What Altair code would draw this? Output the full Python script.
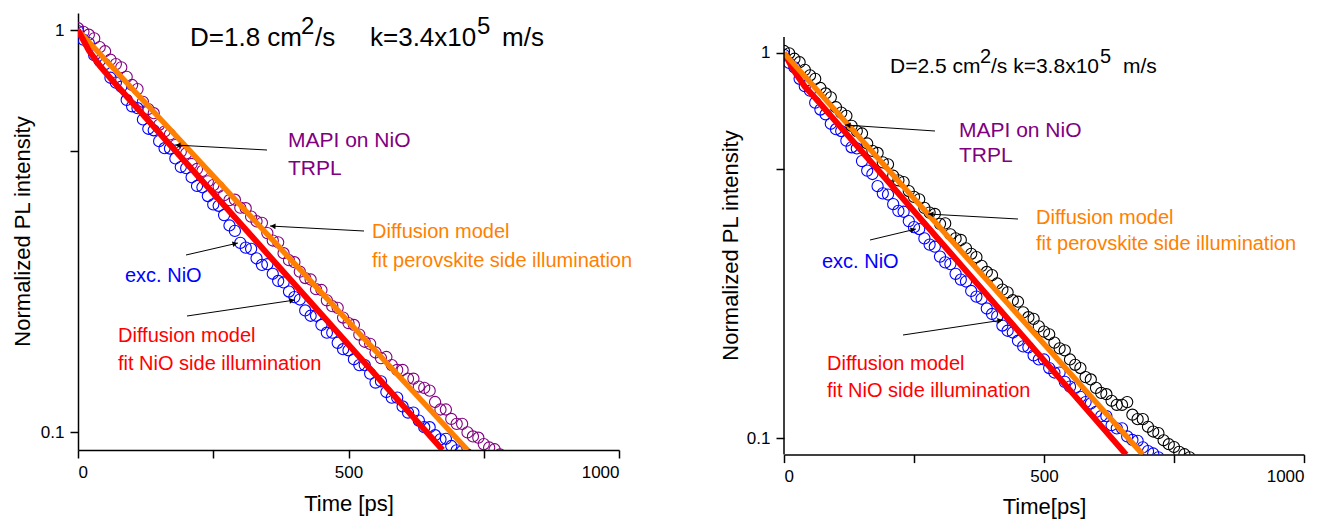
import math

import altair as alt
import pandas as pd

FONT = "Liberation Sans, Arial, sans-serif"

BLUE = "#0000ff"
PURPLE = "#800080"
BLACK = "#000000"
ORANGE = "#ff8000"
RED = "#ff0000"

# Shared sampling grid of the TRPL traces (ps)
TIME_PS = [
    0, 10, 20, 30, 40, 50, 60, 70, 80, 90,
    100, 110, 120, 130, 140, 150, 160, 170, 180, 190,
    200, 210, 220, 230, 240, 250, 260, 270, 280, 290,
    300, 310, 320, 330, 340, 350, 360, 370, 380, 390,
    400, 410, 420, 430, 440, 450, 460, 470, 480, 490,
    500, 510, 520, 530, 540, 550, 560, 570, 580, 590,
    600, 610, 620, 630, 640, 650, 660, 670, 680, 690,
    700, 710, 720, 730, 740, 750, 760, 770, 780,
]

# Left panel (D=1.8 cm2/s): excitation through NiO
LEFT_EXC_NIO = [
    0.995, 0.948, 0.929, 0.867, 0.839, 0.824, 0.762, 0.741, 0.724, 0.671,
    0.647, 0.640, 0.600, 0.569, 0.564, 0.530, 0.509, 0.508, 0.480, 0.457,
    0.454, 0.431, 0.410, 0.407, 0.387, 0.369, 0.366, 0.347, 0.327, 0.317,
    0.296, 0.288, 0.286, 0.271, 0.261, 0.262, 0.248, 0.238, 0.236, 0.224,
    0.217, 0.214, 0.201, 0.195, 0.195, 0.185, 0.177, 0.177, 0.167, 0.161,
    0.160, 0.152, 0.147, 0.147, 0.140, 0.133, 0.134, 0.126, 0.122, 0.122,
    0.116, 0.112, 0.112, 0.107, 0.103, 0.103, 0.0984, 0.0961, 0.0964, 0.0925,
    0.0902, 0.0899, 0.0881,
]
# Left panel: MAPI on NiO, perovskite side
LEFT_MAPI = [
    1.012, 0.991, 0.975, 0.955, 0.908, 0.887, 0.845, 0.824, 0.809, 0.766,
    0.731, 0.714, 0.664, 0.637, 0.622, 0.582, 0.560, 0.551, 0.518, 0.499,
    0.494, 0.465, 0.452, 0.447, 0.421, 0.412, 0.408, 0.389, 0.378, 0.379,
    0.362, 0.361, 0.344, 0.335, 0.332, 0.313, 0.300, 0.297, 0.279, 0.268,
    0.265, 0.251, 0.242, 0.240, 0.227, 0.226, 0.213, 0.206, 0.204, 0.193,
    0.187, 0.185, 0.175, 0.168, 0.166, 0.158, 0.153, 0.154, 0.147, 0.143,
    0.143, 0.136, 0.136, 0.130, 0.129, 0.127, 0.119, 0.114, 0.114, 0.108,
    0.105, 0.105, 0.100, 0.0977, 0.0970, 0.0935, 0.0917, 0.0908, 0.0881,
]
# Right panel (D=2.5 cm2/s): excitation through NiO
RIGHT_EXC_NIO = [
    0.989, 0.942, 0.918, 0.857, 0.820, 0.798, 0.743, 0.713, 0.693, 0.655,
    0.634, 0.627, 0.592, 0.569, 0.565, 0.524, 0.495, 0.485, 0.451, 0.432,
    0.429, 0.405, 0.389, 0.387, 0.366, 0.353, 0.349, 0.330, 0.318, 0.314,
    0.296, 0.286, 0.283, 0.267, 0.258, 0.255, 0.241, 0.233, 0.230, 0.217,
    0.210, 0.207, 0.196, 0.190, 0.188, 0.179, 0.173, 0.172, 0.164, 0.160,
    0.160, 0.152, 0.148, 0.148, 0.140, 0.136, 0.135, 0.128, 0.124, 0.123,
    0.117, 0.114, 0.114, 0.108, 0.106, 0.106, 0.101, 0.0989, 0.0984, 0.0946,
    0.0925, 0.0912, 0.0891,
]
# Right panel: MAPI on NiO, perovskite side
RIGHT_MAPI = [
    1.012, 0.998, 0.966, 0.946, 0.904, 0.875, 0.857, 0.811, 0.785, 0.767,
    0.723, 0.700, 0.687, 0.647, 0.627, 0.618, 0.582, 0.557, 0.550, 0.520,
    0.514, 0.480, 0.467, 0.462, 0.438, 0.423, 0.417, 0.396, 0.385, 0.382,
    0.360, 0.361, 0.338, 0.330, 0.327, 0.311, 0.301, 0.295, 0.280, 0.270,
    0.265, 0.252, 0.243, 0.239, 0.228, 0.226, 0.212, 0.206, 0.204, 0.195,
    0.189, 0.186, 0.177, 0.171, 0.169, 0.160, 0.155, 0.152, 0.144, 0.142,
    0.135, 0.131, 0.130, 0.125, 0.122, 0.122, 0.124, 0.115, 0.112, 0.112,
    0.107, 0.104, 0.103, 0.0987, 0.0964, 0.0948, 0.0921, 0.0908, 0.0891,
]

# Diffusion-model fits (time in ps, normalized intensity)
LEFT_FIT_NIO_T = [0, 20, 40, 60, 674]
LEFT_FIT_NIO_V = [1.0, 0.891, 0.817, 0.760, 0.0904]
LEFT_FIT_PVK_T = [0, 720]
LEFT_FIT_PVK_V = [1.0, 0.0904]
RIGHT_FIT_NIO_T = [0, 20, 40, 61, 658]
RIGHT_FIT_NIO_V = [1.0, 0.895, 0.818, 0.762, 0.0906]
RIGHT_FIT_PVK_T = [0, 690]
RIGHT_FIT_PVK_V = [1.0, 0.0906]

X_TICKS = [0, 250, 500, 750, 1000]
Y_TICKS = [0.1, 0.5, 1]


def trace(values):
    return pd.DataFrame({"t": TIME_PS[: len(values)], "v": values})


def fit(ts, vs):
    return pd.DataFrame({"t": ts, "v": vs})


def label(text, x, y, color=BLACK, size=21):
    return (
        alt.Chart(pd.DataFrame({"label": [text]}))
        .mark_text(align="left", baseline="alphabetic", font=FONT,
                   fontSize=size, color=color)
        .encode(text="label:N", x=alt.value(x), y=alt.value(y))
    )


def arrow(x0, y0, x1, y1):
    one = pd.DataFrame({"k": [0]})
    shaft = alt.Chart(one).mark_rule(color=BLACK, strokeWidth=1).encode(
        x=alt.value(x0), y=alt.value(y0), x2=alt.value(x1), y2=alt.value(y1)
    )
    dx, dy = x1 - x0, y1 - y0
    n = math.hypot(dx, dy)
    ang = math.degrees(math.atan2(dx, -dy)) % 360
    head = alt.Chart(one).mark_point(
        shape="triangle-up", filled=True, size=34, angle=ang,
        color=BLACK, opacity=1, strokeWidth=0,
    ).encode(x=alt.value(x1 - 3 * dx / n), y=alt.value(y1 - 3 * dy / n))
    return [shaft, head]


def panel(exc, mapi, mapi_color, fit_nio, fit_pvk, y_domain, width, height,
          x_title, x_title_y, y_title_x, y_title_y, axis_line, red_on_top,
          extras):
    x = alt.X(
        "t:Q",
        scale=alt.Scale(domain=[0, 1000], nice=False, zero=False),
        axis=alt.Axis(
            values=X_TICKS, format="d",
            labelExpr="datum.value % 500 === 0 ? datum.label : ''",
            title=x_title, titleY=x_title_y, titleBaseline="alphabetic",
        ),
    )
    y = alt.Y(
        "v:Q",
        scale=alt.Scale(type="log", domain=y_domain, nice=False),
        axis=alt.Axis(
            values=Y_TICKS,
            labelExpr="datum.value >= 1 ? '1' : (datum.value < 0.3 ? '0.1' : '')",
            title="Normalized PL intensity", titleX=y_title_x, titleY=y_title_y,
            titleAngle=270, titleAlign="center", titleBaseline="middle",
            domain=axis_line is None,
        ),
    )

    def dots(df, color):
        return alt.Chart(df).mark_point(
            shape="circle", filled=False, size=125, strokeWidth=1.1,
            color=color, opacity=1, clip=True,
        ).encode(x=x, y=y)

    def curve(df, color, w):
        return alt.Chart(df).mark_line(
            color=color, strokeWidth=w, clip=True, strokeCap="butt"
        ).encode(x=x, y=y)

    red = curve(fit_nio, RED, 6)
    orange = curve(fit_pvk, ORANGE, 5.5)
    lines = [orange, red] if red_on_top else [red, orange]
    layers = [dots(exc, BLUE), dots(mapi, mapi_color)] + lines
    if axis_line is not None:
        one = pd.DataFrame({"k": [0]})
        layers.append(
            alt.Chart(one).mark_rule(color=BLACK, strokeWidth=1.5).encode(
                x=alt.value(0), y=alt.value(axis_line[0]),
                y2=alt.value(axis_line[1]),
            )
        )
    layers += extras
    return alt.layer(*layers).properties(width=width, height=height)


left_extras = [
    label("D=1.8 cm", 112, 33, size=26),
    label("2", 223, 21, size=24),
    label("/s", 237, 33, size=26),
    label("k=3.4x10", 292, 33, size=26),
    label("5", 399, 21, size=24),
    label("m/s", 424, 33, size=26),
    label("MAPI on NiO", 210, 134, PURPLE),
    label("TRPL", 210, 162, PURPLE),
    label("Diffusion model", 294, 225, ORANGE, 20),
    label("fit perovskite side illumination", 294, 254, ORANGE, 20),
    label("exc. NiO", 47, 269, BLUE, 20),
    label("Diffusion model", 40, 329, RED, 20),
    label("fit NiO side illumination", 40, 357, RED, 20),
]
left_extras += arrow(189, 137, 97, 132)
left_extras += arrow(286, 218, 192, 213)
left_extras += arrow(108, 242, 160, 230)
left_extras += arrow(109, 303, 217, 287)

right_extras = [
    label("D=2.5 cm", 106, 60, size=21),
    label("2", 196, 50, size=20),
    label("/s k=3.8x10", 207, 60, size=21),
    label("5", 316, 50, size=20),
    label("m/s", 339, 60, size=21),
    label("MAPI on NiO", 175, 124, PURPLE),
    label("TRPL", 175, 149, PURPLE),
    label("Diffusion model", 252, 211, ORANGE, 20),
    label("fit perovskite side illumination", 252, 237, ORANGE, 20),
    label("exc. NiO", 38, 255, BLUE, 20),
    label("Diffusion model", 43, 357, RED, 20),
    label("fit NiO side illumination", 43, 384, RED, 20),
]
right_extras += arrow(151, 118, 61, 112)
right_extras += arrow(234, 206, 144, 201)
right_extras += arrow(86, 227, 132, 216)
right_extras += arrow(119, 322, 219, 307)

left = panel(
    trace(LEFT_EXC_NIO), trace(LEFT_MAPI), PURPLE,
    fit(LEFT_FIT_NIO_T, LEFT_FIT_NIO_V), fit(LEFT_FIT_PVK_T, LEFT_FIT_PVK_V),
    [0.0904, 1.104], 541, 437,
    "Time [ps]", 60, -56, 218, None, True, left_extras,
)
right = panel(
    trace(RIGHT_EXC_NIO), trace(RIGHT_MAPI), BLACK,
    fit(RIGHT_FIT_NIO_T, RIGHT_FIT_NIO_V), fit(RIGHT_FIT_PVK_T, RIGHT_FIT_PVK_V),
    [0.0906, 1.27], 520, 441.6,
    "Time[ps]", 59, -54, 232, (24, 441.6), False, right_extras,
)

chart = (
    alt.hconcat(left, right, spacing=165, bounds="flush")
    .properties(padding={"left": 11, "top": 13, "right": 5, "bottom": 5})
    .configure_view(stroke=None)
    .configure_axis(
        labelFont=FONT, titleFont=FONT, labelFontSize=17, titleFontSize=22,
        titleFontWeight="normal", labelColor=BLACK, titleColor=BLACK,
        domainColor=BLACK, tickColor=BLACK, domainWidth=1.5, tickWidth=1.5,
        tickSize=8, labelPadding=6, grid=False,
    )
)

chart.save("out.html", embed_options={"renderer": "svg", "actions": False})
